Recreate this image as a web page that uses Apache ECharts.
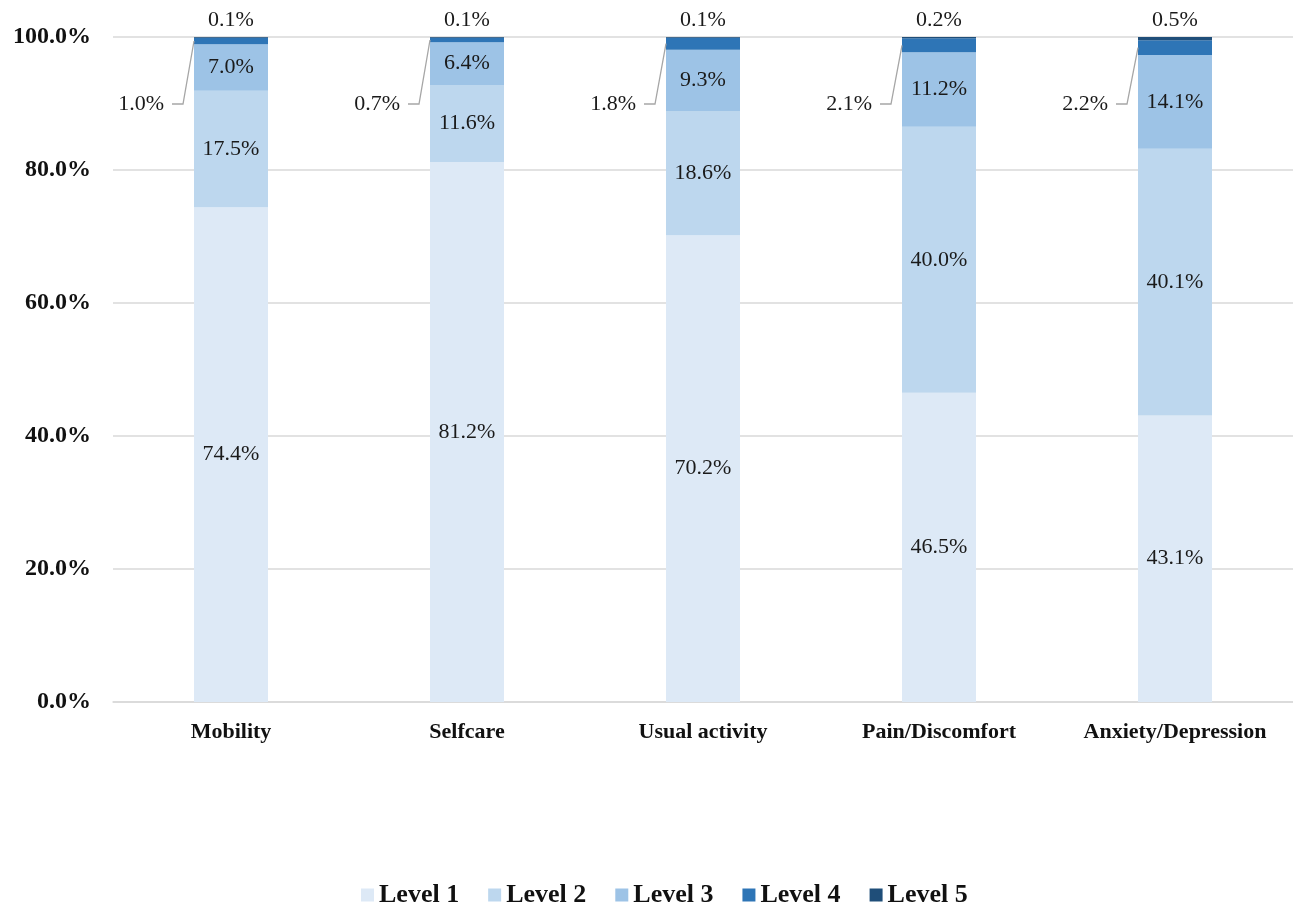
<!DOCTYPE html>
<html><head><meta charset="utf-8">
<script src="https://cdn.jsdelivr.net/npm/echarts@6/dist/echarts.min.js"></script>
<style>html,body{margin:0;padding:0;background:#fff}#c{width:1293px;height:905px}</style>
</head><body><div id="c"></div>
<script>
const categories = ['Mobility','Selfcare','Usual activity','Pain/Discomfort','Anxiety/Depression'];
const level1 = [74.4, 81.2, 70.2, 46.5, 43.1];
const level2 = [17.5, 11.6, 18.6, 40.0, 40.1];
const level3 = [7.0, 6.4, 9.3, 11.2, 14.1];
const level4 = [1.0, 0.7, 1.8, 2.1, 2.2];
const level5 = [0.1, 0.1, 0.1, 0.2, 0.5];
const seriesNames = ['Level 1','Level 2','Level 3','Level 4','Level 5'];
const colors = ['#dde9f6','#bdd7ee','#9dc3e6','#2e75b6','#1f4e79'];
const yTicks = [0,20,40,60,80,100];

const FONT = '"Liberation Serif","Times New Roman",serif';
const BAR_W = 74;
const chart = echarts.init(document.getElementById('c'));
const fmt = p => p.value.toFixed(1) + '%';
const inside = {show:true, position:'inside', formatter: fmt, fontFamily: FONT, fontSize: 22, color:'#1a1a1a'};

// leader-line label data for Level 4: [categoryIndex, midpoint of level 4 segment, value]
const l4Data = categories.map((c,i) => {
  const base = level1[i]+level2[i]+level3[i];
  return [i, base + level4[i]/2, level4[i]];
});

chart.setOption({
  animation:false,
  color: colors,
  grid:{left:113, width:1182, top:37, bottom:203},
  legend:{
    top:877, left:356, itemWidth:13, itemHeight:13, itemGap:29,
    icon:'rect',
    data: seriesNames,
    textStyle:{fontFamily:FONT, fontSize:26, fontWeight:'bold', color:'#111'}
  },
  xAxis:{
    type:'category', data:categories,
    axisTick:{show:false},
    axisLine:{lineStyle:{color:'#d9d9d9', width:1.5}},
    axisLabel:{interval:0, fontFamily:FONT, fontSize:22, fontWeight:'bold', color:'#111', margin:19}
  },
  yAxis:{
    type:'value', min:0, max:100, interval:20,
    axisLabel:{formatter: v => v.toFixed(1)+'%', fontFamily:FONT, fontSize:24, fontWeight:'bold', color:'#111', margin:22},
    splitLine:{lineStyle:{color:'#d9d9d9', width:1.5}},
    axisLine:{show:false}, axisTick:{show:false}
  },
  series:[
    {name:'Level 1', type:'bar', stack:'s', barWidth:BAR_W, data:level1, label:inside, itemStyle:{color:colors[0]}},
    {name:'Level 2', type:'bar', stack:'s', barWidth:BAR_W, data:level2, label:inside, itemStyle:{color:colors[1]}},
    {name:'Level 3', type:'bar', stack:'s', barWidth:BAR_W, data:level3, label:inside, itemStyle:{color:colors[2]}},
    {name:'Level 4', type:'bar', stack:'s', barWidth:BAR_W, data:level4, label:{show:false}, itemStyle:{color:colors[3]}},
    {name:'Level 5', type:'bar', stack:'s', barWidth:BAR_W, data:level5,
      label:{show:true, position:'top', distance:6, formatter:fmt, fontFamily:FONT, fontSize:22, color:'#1a1a1a'},
      itemStyle:{color:colors[4]}},
    {
      type:'custom', name:'l4labels', data:l4Data, silent:true, z:10,
      renderItem:(params, api) => {
        const p = api.coord([api.value(0), api.value(1)]);
        const top = api.coord([api.value(0), 100])[1];
        const left = p[0] - BAR_W/2;
        const jx = left - 11, jy = top + 67;
        return {
          type:'group',
          children:[
            {type:'polyline', shape:{points:[[left, p[1]],[jx, jy],[jx-11, jy]]},
             style:{stroke:'#a6a6a6', lineWidth:1.3, fill:null}},
            {type:'text', style:{text: api.value(2).toFixed(1)+'%', x: jx-19, y: jy,
              align:'right', verticalAlign:'middle', font:'22px '+FONT, fill:'#1a1a1a'}}
          ]
        };
      }
    }
  ]
});
</script></body></html>
